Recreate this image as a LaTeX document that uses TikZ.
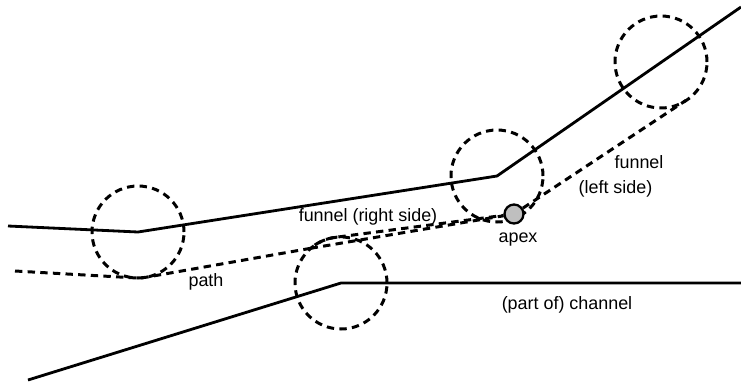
\documentclass[tikz,border=0pt]{standalone}
\usepackage{fontspec}
\setmainfont{Liberation Sans}
\usetikzlibrary{calc}

\begin{document}
\begin{tikzpicture}[x=0.02cm,y=0.02cm,line width=1.6pt,
  route/.style={line width=1.7pt,dash pattern=on 4.2pt off 3pt},
  lbl/.style={font=\fontsize{10.2}{12}\selectfont,inner sep=0pt}]
\useasboundingbox (0,0) rectangle (741,387);
\coordinate (c1) at (138,155);
\coordinate (c2) at (497,211);
\coordinate (c3) at (661,325);
\coordinate (c4) at (341,104);
\coordinate (wl) at (8,161);
\coordinate (wr) at (741,380);
\coordinate (chl) at (28,7);
\coordinate (chr) at (741,104);
\coordinate (start) at (15,116);
\coordinate (split) at (310.6,138.7);
\coordinate (touch) at (686.1,286.7);
\foreach \c in {c1,c2,c3,c4}
  \draw[route] (\c) circle[radius=46];
\draw (wl) -- (c1) -- (c2) -- (wr);
\draw (chl) -- (c4) -- (chr);
\node[circle,draw,line width=1.3pt,fill=gray!50,minimum size=0.38cm,inner sep=0pt] (apex) at (514,173) {};
\draw[route] (start) -- (135.3,109.1) arc[start angle=266.7,end angle=279.8,radius=46] -- (split) arc[start angle=131,end angle=97,radius=46] -- (apex);
\draw[route] (split) -- (apex);
\draw[route] (apex) -- (touch);
\node[lbl] (rlbl) at (368,170) {funnel (right side)};
\node[lbl] (alb) at (518,147) {apex};
\node[lbl] (flbl) at (639,225) {funnel};
\node[lbl] (llbl) at (615.5,198) {(left side)};
\node[lbl] (plbl) at (206,105) {path};
\node[lbl] (chlbl) at (567,82) {(part of) channel};
\end{tikzpicture}
\end{document}
